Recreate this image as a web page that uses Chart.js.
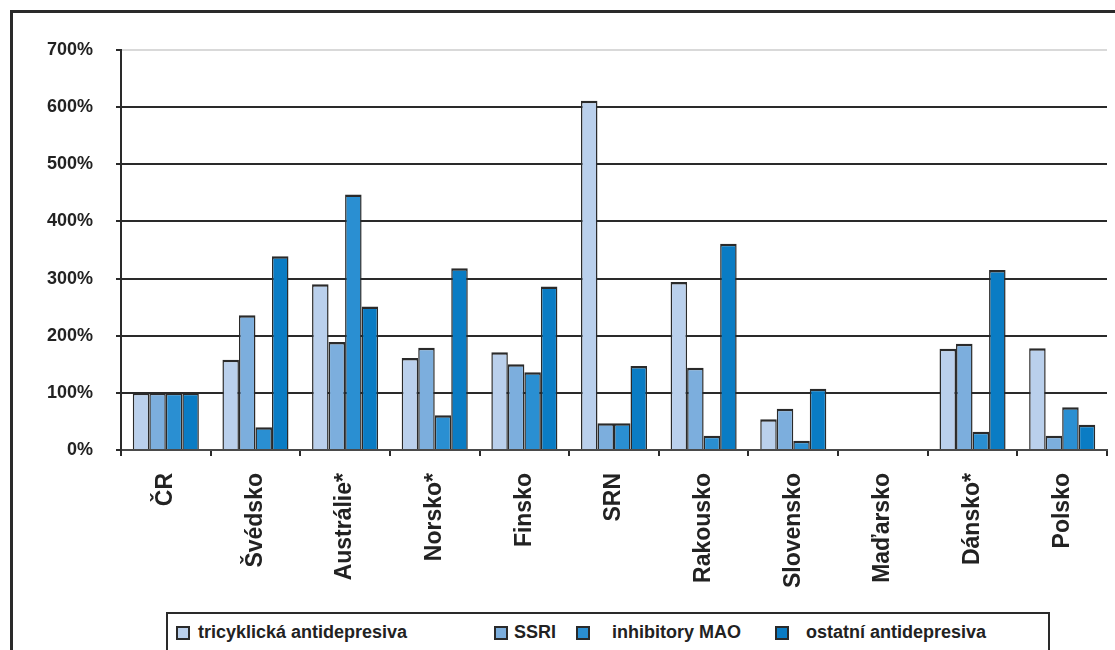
<!DOCTYPE html>
<html>
<head>
<meta charset="utf-8">
<script src="https://cdn.jsdelivr.net/npm/chart.js@4/dist/chart.umd.min.js"></script>
<style>
  html, body { margin: 0; padding: 0; background: #fff; overflow: hidden; }
  #wrap { position: relative; width: 1115px; height: 650px; overflow: hidden; }
  #frame { position: absolute; left: 10px; top: 10px; width: 1200px; height: 800px;
           border-left: 3px solid #2a2a2a; border-top: 3px solid #2a2a2a; }
  #chart { position: absolute; left: 0; top: 0; }
  #legend { position: absolute; left: 166px; top: 612px; width: 880px; height: 60px;
            border: 2px solid #2a2a2a; background: #fff;
            font: bold 18px "Liberation Sans", Arial, Helvetica, sans-serif; color: #222; }
  .sw { position: absolute; top: 12px; width: 10px; height: 10px; border: 2px solid #2a2a2a; }
  .lt { position: absolute; top: 8px; white-space: nowrap; line-height: 20px; }
</style>
</head>
<body>
<div id="wrap">
  <div id="frame"></div>
  <canvas id="chart" width="1115" height="650"></canvas>
  <div id="legend"></div>
</div>
<script>
// Countries on the category axis
const categories = ['ČR', 'Švédsko', 'Austrálie*', 'Norsko*', 'Finsko', 'SRN',
                    'Rakousko', 'Slovensko', 'Maďarsko', 'Dánsko*', 'Polsko'];

// Consumption relative to ČR (= 100 %); Maďarsko has no data
const tricyclic     = [100, 158, 290, 161, 171, 611, 294, 54, null, 177, 178];
const ssri          = [100, 236, 189, 179, 150, 47, 144, 72, null, 186, 25];
const maoInhibitors = [100, 40, 447, 61, 136, 47, 25, 16, null, 32, 75];
const otherAD       = [100, 339, 251, 318, 286, 147, 361, 107, null, 315, 44];

const seriesNames = ['tricyklická antidepresiva', 'SSRI', 'inhibitory MAO', 'ostatní antidepresiva'];
const yTicks = [0, 100, 200, 300, 400, 500, 600, 700];

const colors = ['#bad0ec', '#7caedd', '#2a8fd2', '#0a7cc4'];
const FONT = '"Liberation Sans", Arial, Helvetica, sans-serif';
const DARK = '#2a2a2a';

const seriesValues = [tricyclic, ssri, maoInhibitors, otherAD];
const datasets = seriesValues.map((vals, i) => ({
  label: seriesNames[i],
  data: vals,
  backgroundColor: colors[i],
  borderColor: DARK,
  borderWidth: { top: 2.5, left: 1.5, right: 1.5, bottom: 0 },
  borderSkipped: 'start',
  categoryPercentage: 0.737,
  barPercentage: 1.0
}));

const chart = new Chart(document.getElementById('chart'), {
  type: 'bar',
  data: { labels: categories, datasets },
  options: {
    responsive: false,
    animation: false,
    layout: { padding: { top: 50, right: 8, left: 0, bottom: 0 } },
    plugins: { legend: { display: false }, tooltip: { enabled: false } },
    scales: {
      x: {
        grid: { offset: true, drawOnChartArea: false, drawTicks: true, tickLength: 6,
                color: DARK, lineWidth: 2 },
        border: { color: '#4a4a4a', width: 2 },
        ticks: { autoSkip: false, minRotation: 90, maxRotation: 90, padding: 17,
                 color: '#222', font: { family: FONT, size: 23, weight: 'bold' } },
        afterFit: s => { s.height = 200; }
      },
      y: {
        min: yTicks[0],
        max: yTicks[yTicks.length - 1],
        afterBuildTicks: s => { s.ticks = yTicks.map(v => ({ value: v })); },
        grid: {
          color: c => (c.tick && c.tick.value === 700 ? '#d9d9d9' : DARK),
          tickColor: DARK, lineWidth: 2, tickLength: 5
        },
        border: { color: DARK, width: 2 },
        ticks: { padding: 23, color: '#222', callback: v => v + '%',
                 font: { family: FONT, size: 18, weight: 'bold' } },
        afterFit: s => { s.width = 121; }
      }
    }
  }
});

// HTML legend built from the chart's datasets
const legendSwatchX = [8, 326, 408, 607];
const legendTextX = [30, 346, 444, 638];
const legend = document.getElementById('legend');
chart.data.datasets.forEach((ds, i) => {
  const sw = document.createElement('div');
  sw.className = 'sw';
  sw.style.left = legendSwatchX[i] + 'px';
  sw.style.background = ds.backgroundColor;
  const t = document.createElement('div');
  t.className = 'lt';
  t.style.left = legendTextX[i] + 'px';
  t.textContent = ds.label;
  legend.appendChild(sw);
  legend.appendChild(t);
});
</script>
</body>
</html>
